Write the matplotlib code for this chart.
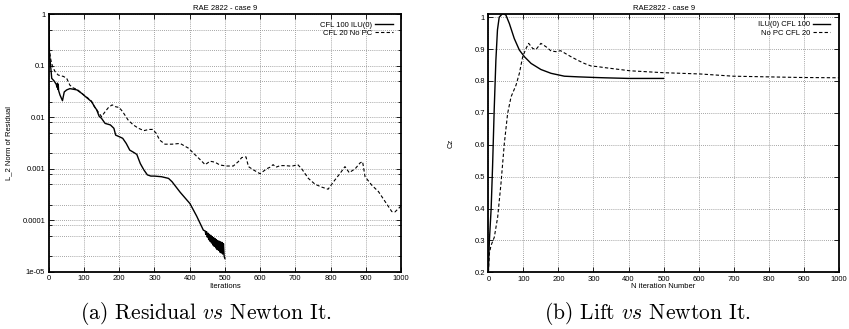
import numpy as np
import matplotlib
matplotlib.use("Agg")
import matplotlib.pyplot as plt
from matplotlib.ticker import FixedLocator, FuncFormatter, NullFormatter

# residual history (left panel)
ilu_it = [0, 2, 6, 8.5, 15, 21, 24, 25, 26, 27, 28, 32, 39, 44, 51, 60, 70, 80, 94, 108,
          122, 130, 136, 143, 150, 160, 175, 185, 190, 200, 210, 220, 230, 240, 250, 260,
          270, 280, 290, 300, 320, 340, 350, 373, 401, 420, 439,
          444, 446, 448, 450, 452, 454, 456, 458, 460, 462, 464, 466, 468, 470, 472, 474,
          476, 478, 480, 482, 484, 486, 488, 490, 492, 494, 496, 498, 500]
ilu_res = [0.95, 0.175, 0.089, 0.057, 0.051, 0.044, 0.038, 0.046, 0.035, 0.043, 0.033, 0.027,
           0.021, 0.031, 0.034, 0.036, 0.035, 0.034, 0.029, 0.024, 0.02, 0.016, 0.014, 0.0105,
           0.0095, 0.0076, 0.0071, 0.0061, 0.0045, 0.0042, 0.0039, 0.0031, 0.0023, 0.0021,
           0.0019, 0.00126, 0.00095, 0.00076, 0.00072, 0.00072, 0.0007, 0.00065, 0.00056,
           0.00035, 0.00021, 0.00012, 6.4e-5,
           6.2e-5, 5.3e-5, 6.0e-5, 4.7e-5, 5.6e-5, 4.2e-5, 5.3e-5, 3.9e-5, 5.1e-5, 3.6e-5,
           4.8e-5, 3.3e-5, 4.6e-5, 3.1e-5, 4.4e-5, 2.9e-5, 4.2e-5, 2.7e-5, 4.0e-5, 2.6e-5,
           3.9e-5, 2.4e-5, 3.8e-5, 2.3e-5, 3.7e-5, 2.2e-5, 3.5e-5, 2.0e-5, 1.8e-5]

nopc_it = [0, 2, 6, 11, 18, 27, 42, 51, 60, 70, 80, 100, 110, 120, 130, 140, 150, 160, 170,
           180, 190, 200, 210, 225, 240, 255, 270, 285, 295, 305, 315, 330, 350, 373, 397,
           411, 430, 444, 458, 472, 486, 505, 524, 538, 548, 560, 567, 581, 600, 609, 619,
           628, 637, 645, 657, 671, 690, 707, 718, 737, 756, 775, 793, 812, 827, 841, 853,
           870, 884, 891, 898, 917, 936, 955, 974, 983, 997, 1000]
nopc_res = [1.0, 0.2, 0.13, 0.096, 0.077, 0.066, 0.062, 0.057, 0.042, 0.037, 0.035, 0.027,
            0.024, 0.021, 0.016, 0.0128, 0.0103, 0.0128, 0.0156, 0.0174, 0.016, 0.0155,
            0.0128, 0.0089, 0.0071, 0.0061, 0.0055, 0.0058, 0.0058, 0.0049, 0.0036, 0.003,
            0.003, 0.0031, 0.0025, 0.002, 0.0015, 0.0012, 0.0014, 0.00134, 0.00118, 0.00113,
            0.00113, 0.00137, 0.00165, 0.0017, 0.0011, 0.00095, 0.0008, 0.00089, 0.001,
            0.00107, 0.0012, 0.00107, 0.00115, 0.00115, 0.00112, 0.0012, 0.001, 0.00065,
            0.0005, 0.00044, 0.0004, 0.0006, 0.00081, 0.0011, 0.00084, 0.001, 0.0013,
            0.00137, 0.0007, 0.00048, 0.00036, 0.00023, 0.000147, 0.000145, 0.00018, 0.00019]

# lift history (right panel)
ilu_cz_it = [0, 3, 8, 12, 16.7, 21.5, 26, 31, 41, 50, 60, 74, 88.5, 103, 122, 150, 179, 217,
             255, 303, 331, 400, 500]
ilu_cz = [0.2, 0.3, 0.4, 0.53, 0.71, 0.865, 0.96, 1.0, 1.012, 1.007, 0.98, 0.933, 0.897,
          0.876, 0.855, 0.836, 0.824, 0.815, 0.813, 0.811, 0.81, 0.808, 0.808]

nopc_cz_it = [0, 3, 7.6, 17, 26.6, 36, 45.6, 55, 64.7, 79, 88.5, 98, 107.5, 115, 126.6, 136,
              150, 165, 179, 193, 206, 217, 236, 255, 274, 293, 312, 331, 404, 499, 604, 699,
              794, 889, 1000]
nopc_cz = [0.2, 0.26, 0.284, 0.31, 0.373, 0.478, 0.604, 0.698, 0.75, 0.787, 0.824, 0.876,
           0.902, 0.918, 0.902, 0.899, 0.918, 0.907, 0.894, 0.892, 0.895, 0.888, 0.876, 0.865,
           0.855, 0.847, 0.845, 0.842, 0.832, 0.826, 0.822, 0.815, 0.813, 0.811, 0.81]

plt.rcParams['font.family'] = ['Liberation Sans', 'DejaVu Sans']
plt.rcParams['font.size'] = 5.5
plt.rcParams['mathtext.fontset'] = 'cm'

fig = plt.figure(figsize=(8.49, 3.29), dpi=100)
ax1 = fig.add_axes([0.0574, 0.1742, 0.4149, 0.7823])
ax2 = fig.add_axes([0.5752, 0.1723, 0.4128, 0.7851])

grid_kw = dict(color='#888888', linestyle=(0, (1, 1.5)), linewidth=0.6)
dash = (0, (3, 2))


def style(ax):
    for s in ax.spines.values():
        s.set_linewidth(1.3)
    ax.tick_params(which='both', direction='in', top=True, right=True, labelsize=5.5,
                   width=0.6, pad=2.5)
    ax.tick_params(which='major', length=3.5)
    ax.tick_params(which='minor', length=2)
    ax.set_axisbelow(True)


# left: residual
ax1.plot(ilu_it, ilu_res, color='black', lw=1.0, label='CFL 100 ILU(0)')
ax1.plot(nopc_it, nopc_res, color='black', lw=0.8, linestyle=dash, label='CFL 20 No PC')
ax1.set_yscale('log')
ax1.set_xlim(0, 1000)
ax1.set_ylim(1e-5, 1)
ax1.set_xticks(range(0, 1001, 100))
decades = [1e-5, 1e-4, 1e-3, 1e-2, 1e-1, 1]
ax1.yaxis.set_major_locator(FixedLocator(decades))
ax1.yaxis.set_major_formatter(FuncFormatter(lambda v, p: '%g' % v))
minor = [d * m for d in decades[:-1] for m in (2, 5)] + [d * 0.8 for d in decades[:-1]]
ax1.yaxis.set_minor_locator(FixedLocator(minor))
ax1.yaxis.set_minor_formatter(NullFormatter())
ax1.grid(True, which='both', axis='y', **grid_kw)
ax1.grid(True, which='major', axis='x', **grid_kw)
style(ax1)
ax1.set_title('RAE 2822 - case 9', fontsize=5.5, pad=3)
ax1.set_xlabel('Iterations', fontsize=5.5, labelpad=0.5)
ax1.set_ylabel('L_2 Norm of Residual', fontsize=5.5, labelpad=7)
ax1.legend(loc='upper right', bbox_to_anchor=(0.985, 0.985), frameon=False,
           markerfirst=False, handlelength=2.3, handletextpad=0.4,
           labelspacing=0.15, borderaxespad=0, fontsize=5.5)

# right: lift
ax2.plot(ilu_cz_it, ilu_cz, color='black', lw=1.0, label='ILU(0) CFL 100')
ax2.plot(nopc_cz_it, nopc_cz, color='black', lw=0.8, linestyle=dash, label='No PC CFL 20')
ax2.set_xlim(0, 1000)
ax2.set_ylim(0.2, 1.01)
ax2.set_xticks(range(0, 1001, 100))
ax2.set_yticks(np.arange(0.2, 1.01, 0.1))
ax2.yaxis.set_major_formatter(FuncFormatter(lambda v, p: '%g' % round(v, 1)))
ax2.grid(True, which='major', **grid_kw)
style(ax2)
ax2.set_title('RAE2822 - case 9', fontsize=5.5, pad=3)
ax2.set_xlabel('N iteration Number', fontsize=5.5, labelpad=0.5)
ax2.set_ylabel('Cz', fontsize=5.5, labelpad=14)
ax2.legend(loc='upper right', bbox_to_anchor=(0.985, 0.985), frameon=False,
           markerfirst=False, handlelength=2.3, handletextpad=0.4,
           labelspacing=0.15, borderaxespad=0, fontsize=5.5)

cap = dict(family='cmr10', fontsize=15.5, ha='center', va='center')
fig.text(0.243, 0.047, r'(a) Residual $\mathit{vs}$ Newton It.', **cap)
fig.text(0.762, 0.047, r'(b) Lift $\mathit{vs}$ Newton It.', **cap)

fig.savefig('out.png', dpi=100)
